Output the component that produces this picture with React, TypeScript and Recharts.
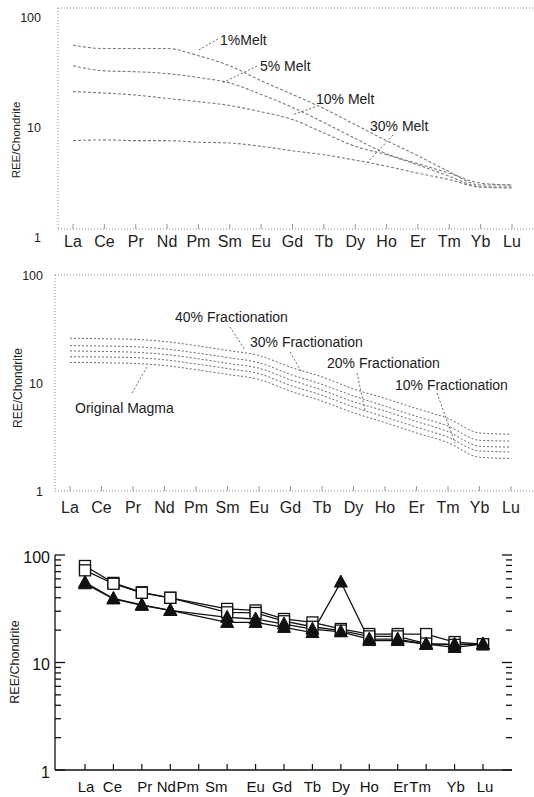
import React from "react";
import { LineChart, Line, XAxis, YAxis, ReferenceLine } from "recharts";

const FONT = "'Liberation Sans', Arial, Helvetica, sans-serif";

const elements = ["La", "Ce", "Pr", "Nd", "Pm", "Sm", "Eu", "Gd", "Tb", "Dy", "Ho", "Er", "Tm", "Yb", "Lu"];

// top panel: partial melting curves
const melt1 = [46, 43, 43, 43, 37, 30, 22, 16.5, 12.3, 8.8, 6.3, 4.6, 3.3, 2.5, 2.5];
const melt5 = [30, 27, 26.5, 25.5, 23.5, 21, 16.5, 12.6, 9.2, 6.6, 4.8, 3.9, 3.2, 2.6, 2.5];
const melt10 = [17.5, 17, 16.3, 15.2, 14.2, 13.1, 11.5, 9.8, 7.4, 5.6, 4.7, 3.8, 3.0, 2.4, 2.35];
const melt30 = [6.3, 6.4, 6.3, 6.3, 6.1, 6.0, 5.6, 5.1, 4.7, 4.2, 3.7, 3.2, 2.8, 2.4, 2.4];

// middle panel: fractional crystallisation
const magma = [15.5, 15.4, 15.2, 14.5, 13.3, 12.0, 10.8, 8.4, 6.8, 5.3, 4.3, 3.45, 2.8, 2.05, 2.0];
const frac10 = [17.5, 17.4, 17.2, 16.4, 15.0, 13.6, 12.2, 9.5, 7.7, 6.0, 4.85, 3.9, 3.15, 2.35, 2.3];
const frac20 = [19.8, 19.6, 19.3, 18.4, 16.9, 15.2, 13.7, 10.7, 8.6, 6.7, 5.5, 4.4, 3.55, 2.6, 2.55];
const frac30 = [22.2, 22.0, 21.7, 20.7, 19.0, 17.2, 15.4, 12.0, 9.7, 7.6, 6.1, 4.9, 4.0, 2.95, 2.9];
const frac40 = [26.0, 25.7, 25.4, 24.2, 22.2, 20.0, 18.0, 14.0, 11.4, 8.8, 7.2, 5.8, 4.7, 3.45, 3.35];

// bottom panel: samples (no Pm)
const sqA = [79, 55, 45, 40, null, 31.5, 30.5, 25.4, 23.6, 20.5, 18.4, 18.4, 18.4, 15.5, 14.8];
const sqB = [72, 54, 44.5, 40, null, 29.3, 28.9, 24.2, 21.5, 19.8, 17.5, 17.5, 15, 14.6, 14.8];
const triA = [55.6, 39.4, 34.4, 30.5, null, 23.6, 23.6, 21.2, 19, 56, 16, 16, 14.8, 13.8, 14.8];
const triB = [54, 39, 34, 30.5, null, 26.3, 25.4, 22.8, 20.4, 19.3, 16.5, 16.5, 14.8, 14.8, 14.8];

const decadeTicks = [1, 10, 100];
const logTicks = [1, 2, 3, 4, 5, 6, 7, 8, 9, 10, 20, 30, 40, 50, 60, 70, 80, 90, 100];

// nudges for the cramped labels of the bottom panel
const labelShift: Record<string, number> = { La: 1, Ce: -1, Pr: 3, Nd: -4, Pm: -11, Sm: -11, Gd: -2, Er: 3, Tm: -6, Yb: 1, Lu: 2 };

const meltRows = elements.map((el, i) => ({ el, m1: melt1[i], m5: melt5[i], m10: melt10[i], m30: melt30[i] }));
const fracRows = elements.map((el, i) => ({
  el, mg: magma[i], f10: frac10[i], f20: frac20[i], f30: frac30[i], f40: frac40[i],
}));
const sampleRows = elements.map((el, i) => ({ el, a: sqA[i], b: sqB[i], c: triA[i], d: triB[i] }));

const dotted = { stroke: "#8a8a8a", strokeDasharray: "1 2" };
const black = { stroke: "#111", strokeWidth: 1.3 };

const scanXTick = (bottom: number, labelY: number) => (p: any) => (
  <g>
    <line x1={p.x} x2={p.x} y1={bottom} y2={bottom - 5} stroke="#999" />
    <text x={p.x} y={labelY} textAnchor="middle" dominantBaseline="central" fontSize={16} fill="#222" fontFamily={FONT}>
      {p.payload.value}
    </text>
  </g>
);

const scanYTick = (right: number, dy: number) => (p: any) => (
  <text x={right} y={p.y + dy} textAnchor="end" dominantBaseline="central" fontSize={12.5} fill="#222" fontFamily={FONT}>
    {p.payload.value}
  </text>
);

const sampleXTick = (p: any) => {
  const v = p.payload.value;
  return (
    <g>
      <line x1={p.x} x2={p.x} y1={230} y2={224} stroke="#111" strokeWidth={1.2} />
      <text x={p.x + (labelShift[v] || 0)} y={246} textAnchor="middle" dominantBaseline="central" fontSize={15} fill="#111" fontFamily={FONT}>
        {v}
      </text>
    </g>
  );
};

// inward log ticks on both frame sides, labels on the decades only
const sampleYTick = (p: any) => {
  const v = p.payload.value;
  const major = decadeTicks.includes(v);
  const len = major ? 10 : 6;
  return (
    <g>
      <line x1={55} x2={55 + len} y1={p.y} y2={p.y} stroke="#111" strokeWidth={1.3} />
      <line x1={512} x2={512 - len} y1={p.y} y2={p.y} stroke="#111" strokeWidth={1.3} />
      {major && (
        <text x={50} y={p.y + 2} textAnchor="end" dominantBaseline="central" fontSize={16} fill="#111" fontFamily={FONT}>
          {v}
        </text>
      )}
    </g>
  );
};

const squareDot = (p: any) => {
  const { cx, cy, value, index } = p;
  if (value == null || cx == null || cy == null) return <g key={index} />;
  return <rect key={index} x={cx - 5.5} y={cy - 5.5} width={11} height={11} fill="#fff" stroke="#111" strokeWidth={1.3} />;
};

const triangleDot = (p: any) => {
  const { cx, cy, value, index } = p;
  if (value == null || cx == null || cy == null) return <g key={index} />;
  return <polygon key={index} points={`${cx},${cy - 7} ${cx - 6.5},${cy + 5} ${cx + 6.5},${cy + 5}`} fill="#111" stroke="#111" />;
};

const txt = { fontFamily: FONT, fill: "#222", dominantBaseline: "central" as const };
const leader = { stroke: "#555", strokeWidth: 0.9, strokeDasharray: "2 2" };

function Overlay() {
  return (
    <svg width={534} height={797} style={{ position: "absolute", left: 0, top: 0, pointerEvents: "none" }}>
      <text x={16} y={140} fontSize={11.5} textAnchor="middle" transform="rotate(-90 16 140)" {...txt}>REE/Chondrite</text>
      <text x={220} y={40} fontSize={14} {...txt}>1%Melt</text>
      <text x={260} y={66} fontSize={14} {...txt}>5% Melt</text>
      <text x={316} y={99} fontSize={14} {...txt}>10% Melt</text>
      <text x={370} y={126} fontSize={14} {...txt}>30% Melt</text>
      <line x1={218} y1={39} x2={197} y2={51} {...leader} />
      <line x1={257} y1={66} x2={222} y2={83} {...leader} />
      <line x1={315} y1={107} x2={292} y2={115} {...leader} />
      <line x1={393} y1={135} x2={365} y2={165} {...leader} />

      <text x={18} y={388} fontSize={12} textAnchor="middle" transform="rotate(-90 18 388)" {...txt}>REE/Chondrite</text>
      <text x={175} y={317} fontSize={14} {...txt}>40% Fractionation</text>
      <text x={250} y={342} fontSize={14} {...txt}>30% Fractionation</text>
      <text x={327} y={363} fontSize={14} {...txt}>20% Fractionation</text>
      <text x={395} y={385} fontSize={14} {...txt}>10% Fractionation</text>
      <text x={75} y={408} fontSize={14} {...txt}>Original Magma</text>
      <line x1={230} y1={327} x2={245} y2={350} {...leader} />
      <line x1={290} y1={352} x2={302} y2={373} {...leader} />
      <line x1={357} y1={373} x2={365} y2={410} {...leader} />
      <line x1={437} y1={393} x2={455} y2={443} {...leader} />
      <line x1={132} y1={393} x2={147} y2={367} {...leader} />

      <text x={15} y={662} fontSize={12.5} textAnchor="middle" transform="rotate(-90 15 662)" {...txt}>REE/Chondrite</text>
    </svg>
  );
}

export default function App() {
  const meltLine = { type: "monotone" as const, stroke: "#7a7a7a", strokeWidth: 1.1, strokeDasharray: "3 2", dot: false, activeDot: false, isAnimationActive: false };
  const fracLine = { type: "monotone" as const, stroke: "#6a6a6a", strokeWidth: 1, strokeDasharray: "2 2", dot: false, activeDot: false, isAnimationActive: false };
  const sampleLine = { type: "linear" as const, stroke: "#111", strokeWidth: 1.3, connectNulls: true, activeDot: false, isAnimationActive: false };
  const logAxis = { type: "number" as const, scale: "log" as const, domain: [1, 100], allowDataOverflow: true };

  return (
    <div style={{ position: "absolute", left: 0, top: 0, width: 534, height: 797, overflow: "hidden", background: "#fff", fontFamily: FONT }}>
      <div style={{ position: "absolute", left: 0, top: 0 }}>
        <LineChart width={570} height={260} data={meltRows} margin={{ top: 8, right: 10, bottom: 0, left: 0 }}>
          <XAxis dataKey="el" height={31} interval={0} padding={{ left: 15, right: 48 }} axisLine={dotted} tickLine={false} tick={scanXTick(229, 241)} />
          <YAxis {...logAxis} ticks={decadeTicks} width={58} axisLine={dotted} tickLine={false} tick={scanYTick(41, 9)} />
          <ReferenceLine y={100} {...dotted} />
          <Line dataKey="m1" {...meltLine} />
          <Line dataKey="m5" {...meltLine} />
          <Line dataKey="m10" {...meltLine} />
          <Line dataKey="m30" {...meltLine} />
        </LineChart>
      </div>

      <div style={{ position: "absolute", left: 0, top: 260 }}>
        <LineChart width={570} height={270} data={fracRows} margin={{ top: 15, right: 10, bottom: 0, left: 0 }}>
          <XAxis dataKey="el" height={39} interval={0} padding={{ left: 15, right: 49 }} axisLine={dotted} tickLine={false} tick={scanXTick(231, 247)} />
          <YAxis {...logAxis} ticks={decadeTicks} width={55} axisLine={dotted} tickLine={false} tick={scanYTick(43, 1)} />
          <ReferenceLine y={100} {...dotted} />
          <Line dataKey="mg" {...fracLine} />
          <Line dataKey="f10" {...fracLine} />
          <Line dataKey="f20" {...fracLine} />
          <Line dataKey="f30" {...fracLine} />
          <Line dataKey="f40" {...fracLine} />
        </LineChart>
      </div>

      <div style={{ position: "absolute", left: 0, top: 540 }}>
        <LineChart width={534} height={257} data={sampleRows} margin={{ top: 15, right: 22, bottom: 0, left: 0 }}>
          <XAxis dataKey="el" height={27} interval={0} padding={{ left: 30, right: 29 }} axisLine={black} tickLine={false} tick={sampleXTick} />
          <XAxis xAxisId="top" orientation="top" dataKey="el" height={0} tick={false} tickLine={false} axisLine={black} />
          <YAxis {...logAxis} ticks={logTicks} interval={0} width={55} axisLine={black} tickLine={false} tick={sampleYTick} />
          <YAxis yAxisId="r" orientation="right" type="number" domain={[0, 1]} width={0} tick={false} tickLine={false} axisLine={black} />
          <Line dataKey="a" {...sampleLine} dot={squareDot} />
          <Line dataKey="b" {...sampleLine} dot={squareDot} />
          <Line dataKey="c" {...sampleLine} dot={triangleDot} />
          <Line dataKey="d" {...sampleLine} dot={triangleDot} />
        </LineChart>
      </div>

      <Overlay />
    </div>
  );
}
